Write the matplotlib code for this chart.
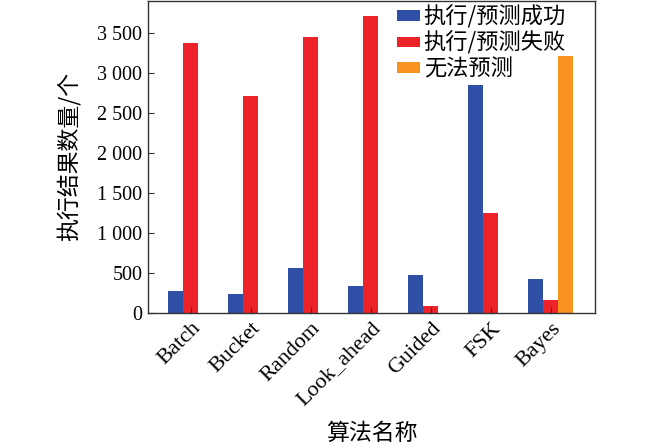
import matplotlib
matplotlib.use("Agg")
import matplotlib.pyplot as plt
import matplotlib.transforms as mtransforms
import numpy as np
from matplotlib.ticker import FuncFormatter

categories = ["Batch", "Bucket", "Random", "Look_ahead", "Guided", "FSK", "Bayes"]
success = [270, 240, 561, 340, 470, 2840, 420]
failure = [3375, 2714, 3441, 3712, 83, 1243, 162]
unpredictable = [0, 0, 0, 0, 0, 0, 3205]
series_names = ["执行/预测成功", "执行/预测失败", "无法预测"]
colors = ["#3050a8", "#ee2329", "#f7931e"]

plt.rcParams['font.family'] = ['Liberation Serif', 'Noto Sans CJK SC']

fig = plt.figure(figsize=(6.5, 4.47), dpi=100)
ax = fig.add_axes([0.2277, 0.2998, 0.6877, 0.699])

x = np.arange(len(categories))
w = 0.25
ax.bar(x - w, success, w, color=colors[0], label=series_names[0])
ax.bar(x, failure, w, color=colors[1], label=series_names[1])
ub = [i for i, v in enumerate(unpredictable) if v > 0]
ax.bar(x[ub] + w, [unpredictable[i] for i in ub], w, color=colors[2], label=series_names[2])

ax.set_xlim(-0.71, 6.74)
ax.set_ylim(0, 3900)
ax.set_yticks(np.arange(0, 3501, 500))
ax.yaxis.set_major_formatter(FuncFormatter(lambda v, p: f"{int(v):,}".replace(",", " ")))
ax.set_xticks(x)
ax.tick_params(axis='y', direction='in', labelsize=14.5, length=4, color='#333333', pad=4)
ax.tick_params(axis='x', direction='in', labelsize=16, length=4, color='#333333', pad=9)
ax.set_xticklabels(categories, rotation=45, ha='right', va='center', rotation_mode='anchor')
offset = mtransforms.ScaledTranslation(7 / 100, 0, fig.dpi_scale_trans)
for lbl in ax.get_xticklabels():
    lbl.set_transform(lbl.get_transform() + offset)
for s in ax.spines.values():
    s.set_color('#333333')
    s.set_linewidth(1.0)

ax.set_xlabel("算法名称", fontsize=16.5, labelpad=9, family=['Noto Sans CJK SC'])
ax.set_ylabel("执行结果数量/个", fontsize=16.5, labelpad=12, family=['Noto Sans CJK SC', 'Liberation Serif'])

leg = ax.legend(loc='upper left', bbox_to_anchor=(0.557, 0.985), frameon=False,
                handlelength=1.05, handleheight=0.36,
                handletextpad=0.15, labelspacing=0.12, borderaxespad=0.0, borderpad=0.0,
                prop={'family': ['Noto Sans CJK SC'], 'size': 16})

fig.savefig("out.png", dpi=100)
